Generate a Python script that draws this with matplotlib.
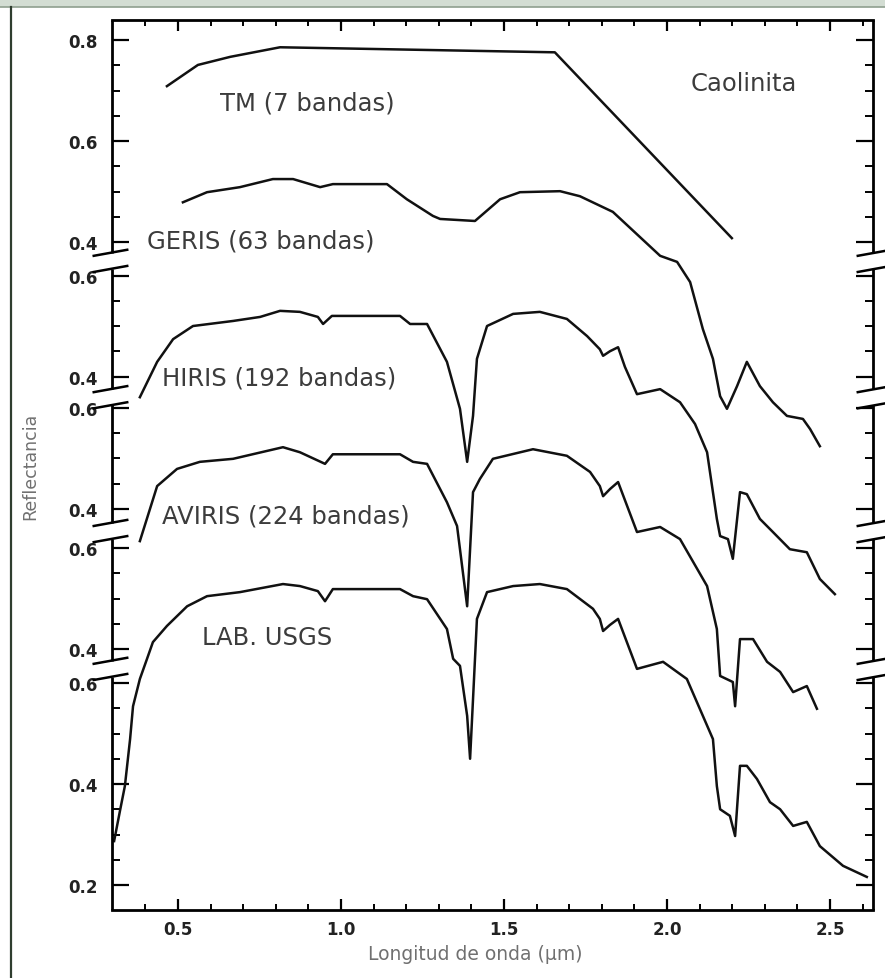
import numpy as np
import matplotlib.pyplot as plt
from matplotlib.patches import Rectangle
from matplotlib.lines import Line2D

# spectra: wavelength (um) and reflectance
tm_wl = [0.466, 0.561, 0.660, 0.813, 1.656, 2.199]
tm_refl = [0.709, 0.751, 0.767, 0.786, 0.776, 0.408]

geris_wl = [0.515, 0.589, 0.690, 0.791, 0.853, 0.936, 0.975, 1.141, 1.202, 1.282,
            1.304, 1.411, 1.488, 1.549, 1.672, 1.733, 1.834, 1.979, 2.031, 2.071,
            2.110, 2.141, 2.163, 2.184, 2.215, 2.245, 2.285, 2.325, 2.368, 2.417,
            2.439, 2.469]
geris_refl = [0.745, 0.765, 0.775, 0.791, 0.791, 0.775, 0.781, 0.781, 0.751, 0.718,
              0.712, 0.708, 0.751, 0.765, 0.767, 0.757, 0.726, 0.639, 0.627, 0.587,
              0.494, 0.435, 0.361, 0.336, 0.381, 0.429, 0.381, 0.349, 0.322, 0.316,
              0.296, 0.262]

hiris_wl = [0.383, 0.436, 0.485, 0.546, 0.669, 0.752, 0.813, 0.874, 0.929, 0.945,
            0.972, 1.181, 1.212, 1.264, 1.325, 1.365, 1.387, 1.405, 1.417, 1.448,
            1.528, 1.610, 1.693, 1.755, 1.794, 1.804, 1.825, 1.850, 1.871, 1.908,
            1.979, 2.040, 2.086, 2.123, 2.153, 2.163, 2.187, 2.202, 2.224, 2.245,
            2.285, 2.325, 2.377, 2.429, 2.469, 2.515]
hiris_refl = [0.621, 0.691, 0.736, 0.762, 0.772, 0.780, 0.792, 0.790, 0.780, 0.766,
              0.782, 0.782, 0.766, 0.766, 0.691, 0.598, 0.493, 0.584, 0.697, 0.762,
              0.786, 0.790, 0.776, 0.742, 0.716, 0.703, 0.712, 0.720, 0.681, 0.627,
              0.637, 0.611, 0.568, 0.512, 0.380, 0.346, 0.340, 0.301, 0.433, 0.429,
              0.380, 0.354, 0.320, 0.314, 0.261, 0.231]

aviris_wl = [0.383, 0.436, 0.497, 0.567, 0.669, 0.822, 0.874, 0.951, 0.975, 1.181,
             1.221, 1.264, 1.325, 1.356, 1.387, 1.405, 1.426, 1.466, 1.589, 1.693,
             1.764, 1.794, 1.804, 1.825, 1.850, 1.908, 1.979, 2.040, 2.123, 2.153,
             2.163, 2.202, 2.209, 2.224, 2.264, 2.307, 2.347, 2.387, 2.429, 2.460]
aviris_refl = [0.614, 0.723, 0.757, 0.771, 0.777, 0.800, 0.790, 0.767, 0.786, 0.786,
               0.771, 0.767, 0.691, 0.644, 0.485, 0.711, 0.737, 0.777, 0.796, 0.783,
               0.751, 0.723, 0.703, 0.717, 0.731, 0.632, 0.642, 0.618, 0.525, 0.440,
               0.347, 0.335, 0.287, 0.420, 0.420, 0.375, 0.355, 0.315, 0.327, 0.282]

lab_wl = [0.304, 0.322, 0.337, 0.353, 0.362, 0.383, 0.405, 0.423, 0.466, 0.528,
          0.589, 0.690, 0.822, 0.874, 0.929, 0.951, 0.975, 1.181, 1.221, 1.264,
          1.325, 1.344, 1.365, 1.387, 1.396, 1.405, 1.417, 1.448, 1.528, 1.610,
          1.693, 1.773, 1.794, 1.804, 1.825, 1.850, 1.908, 1.988, 2.061, 2.141,
          2.153, 2.163, 2.193, 2.209, 2.224, 2.245, 2.276, 2.316, 2.347, 2.387,
          2.429, 2.469, 2.540, 2.613]
lab_refl = [0.287, 0.347, 0.396, 0.489, 0.554, 0.608, 0.648, 0.681, 0.713, 0.752,
            0.772, 0.780, 0.796, 0.792, 0.782, 0.762, 0.786, 0.786, 0.772, 0.766,
            0.707, 0.648, 0.634, 0.535, 0.450, 0.568, 0.727, 0.780, 0.792, 0.796,
            0.786, 0.747, 0.727, 0.703, 0.715, 0.727, 0.628, 0.642, 0.608, 0.489,
            0.396, 0.350, 0.337, 0.297, 0.436, 0.436, 0.410, 0.364, 0.350, 0.317,
            0.325, 0.277, 0.238, 0.216]

# stacking: each spectrum sits on its own broken piece of the y axis
offsets = [1.073, 0.807, 0.545, 0.267, 0.0]
panel_ticks = [[0.8, 0.6, 0.4], [0.6, 0.4], [0.6, 0.4], [0.6, 0.4], [0.6, 0.4, 0.2]]
breaks = [1.436, 1.166, 0.901, 0.628]
y_lo, y_hi = 0.1505, 1.913

spectra = [(tm_wl, tm_refl), (geris_wl, geris_refl), (hiris_wl, hiris_refl),
           (aviris_wl, aviris_refl), (lab_wl, lab_refl)]

fig = plt.figure(figsize=(8.85, 9.79), dpi=100)
ax = fig.add_axes([112 / 885, 68 / 979, 761 / 885, 890 / 979])

for (wl, refl), off in zip(spectra, offsets):
    ax.plot(wl, np.array(refl) + off, color='#111111', lw=1.8)

ax.set_xlim(0.2975, 2.632)
ax.set_ylim(y_lo, y_hi)

# ticks
major_pos, major_lab, minor_pos = [], [], []
bounds = [y_hi] + breaks + [y_lo]
for i, (off, vals) in enumerate(zip(offsets, panel_ticks)):
    for v in vals:
        major_pos.append(v + off)
        major_lab.append(f"{v:.1f}")
    hi, lo = bounds[i], bounds[i + 1]
    for v in np.arange(0.15, 0.86, 0.05):
        y = v + off
        if lo + 0.015 < y < hi - 0.015 and min(abs(v - m) for m in vals) > 0.01:
            minor_pos.append(y)

ax.set_yticks(major_pos)
ax.set_yticklabels(major_lab)
ax.set_yticks(minor_pos, minor=True)
ax.set_xticks([0.5, 1.0, 1.5, 2.0, 2.5])
ax.set_xticks(np.arange(0.4, 2.61, 0.1), minor=True)

for lab in ax.get_xticklabels() + ax.get_yticklabels():
    lab.set_fontweight('bold')
    lab.set_fontsize(12)
    lab.set_color('#222222')

ax.tick_params(axis='y', which='major', direction='in', length=12, width=1.6,
               left=True, right=True, pad=10)
ax.tick_params(axis='y', which='minor', direction='in', length=6, width=1.4,
               left=True, right=True)
ax.tick_params(axis='x', which='major', direction='in', length=8, width=1.6,
               top=True, bottom=True, pad=7)
ax.tick_params(axis='x', which='minor', direction='in', length=4, width=1.4,
               top=True, bottom=True)

# broken left/right axis
for side in ['left', 'right']:
    ax.spines[side].set_visible(False)
for side in ['top', 'bottom']:
    ax.spines[side].set_linewidth(2)

gap = 0.016
tr = ax.get_yaxis_transform()
for i in range(len(offsets)):
    hi, lo = bounds[i], bounds[i + 1]
    top = hi if i == 0 else hi - gap
    bot = lo if i == len(offsets) - 1 else lo + gap
    for xs in (0, 1):
        ax.plot([xs, xs], [bot, top], transform=tr, color='black', lw=2,
                clip_on=False, solid_capstyle='butt')

for b in breaks:
    for s in (-gap, gap):
        ax.plot([-0.024, 0.02], [b + s - 0.006, b + s + 0.006], transform=tr,
                color='black', lw=1.8, clip_on=False)
        ax.plot([0.98, 1.024], [b + s - 0.006, b + s + 0.006], transform=tr,
                color='black', lw=1.8, clip_on=False)

# labels
txt = dict(fontsize=17.5, color='#3c3c3c', va='center', ha='left')
ax.text(0.629, 1.750, 'TM (7 bandas)', **txt)
ax.text(2.071, 1.788, 'Caolinita', **txt)
ax.text(0.405, 1.477, 'GERIS (63 bandas)', **txt)
ax.text(0.451, 1.206, 'HIRIS (192 bandas)', **txt)
ax.text(0.451, 0.931, 'AVIRIS (224 bandas)', **txt)
ax.text(0.574, 0.691, 'LAB. USGS', **txt)

ax.set_ylabel('Reflectancia', fontsize=12.5, color='#707070')
ax.yaxis.set_label_coords(-0.096, 0.50)
ax.set_xlabel('Longitud de onda (µm)', fontsize=13.5, color='#707070')
ax.xaxis.set_label_coords(0.477, -0.038)

# scanned-page frame
fig.patches.append(Rectangle((0, 1 - 8 / 979), 1, 8 / 979, transform=fig.transFigure,
                             facecolor='#d3ddd3', edgecolor='none'))
fig.lines.append(Line2D([0, 1], [1 - 8 / 979, 1 - 8 / 979], transform=fig.transFigure,
                        color='#8f9f8f', lw=1.2))
fig.lines.append(Line2D([11 / 885, 11 / 885], [0, 1 - 8 / 979], transform=fig.transFigure,
                        color='#2f3d2f', lw=1.6))

fig.savefig('out.png', dpi=100)
